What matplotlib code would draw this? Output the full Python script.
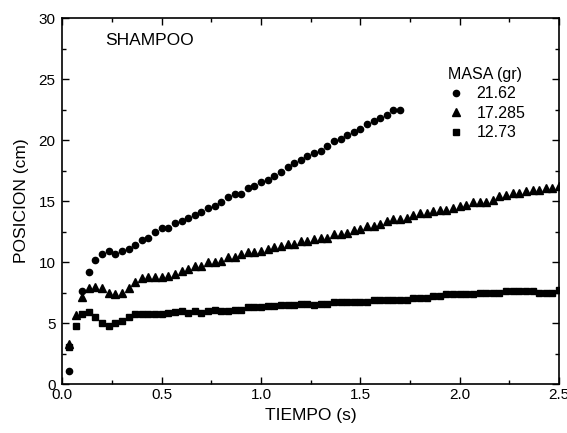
import numpy as np
import matplotlib
matplotlib.use("Agg")
import matplotlib.pyplot as plt
from matplotlib.ticker import MultipleLocator, FormatStrFormatter

plt.rcParams['font.family'] = ['Liberation Sans', 'DejaVu Sans']

# frames sampled at 30 fps
FPS = 30
frames = np.arange(1, 76)

masas = ['21.62', '17.285', '12.73']

# 21.62 gr (circles), frame 2 not visible
pos_21 = [1.08, np.nan, 7.6, 9.2, 10.2, 10.7, 10.9, 10.7, 10.9, 11.1,
          11.4, 11.8, 12.0, 12.5, 12.8, 12.8, 13.2, 13.4, 13.6, 13.9,
          14.1, 14.4, 14.6, 14.9, 15.3, 15.6, 15.6, 16.1, 16.2, 16.6,
          16.7, 17.1, 17.4, 17.8, 18.1, 18.4, 18.7, 18.96, 19.1, 19.5,
          19.9, 20.1, 20.4, 20.7, 20.9, 21.3, 21.6, 21.8, 22.1, 22.5,
          22.5]

# 17.285 gr (triangles)
pos_17 = [3.3, 5.7, 7.1, 7.9, 8.0, 7.9, 7.5, 7.35, 7.5, 7.9,
          8.4, 8.7, 8.8, 8.8, 8.8, 8.85, 9.0, 9.3, 9.4, 9.7,
          9.7, 10.0, 10.0, 10.1, 10.4, 10.4, 10.65, 10.8, 10.8, 10.9,
          11.1, 11.2, 11.3, 11.5, 11.5, 11.75, 11.75, 11.9, 12.0, 12.0,
          12.3, 12.3, 12.4, 12.6, 12.7, 12.95, 12.95, 13.1, 13.4, 13.5,
          13.5, 13.6, 13.9, 14.0, 14.0, 14.2, 14.3, 14.3, 14.45, 14.6,
          14.7, 14.9, 14.9, 14.9, 15.1, 15.4, 15.5, 15.7, 15.7, 15.8,
          15.95, 15.95, 16.1, 16.1, 16.2]

# 12.73 gr (squares)
pos_12 = [3.0, 4.75, 5.75, 5.9, 5.5, 5.0, 4.75, 5.0, 5.15, 5.5,
          5.75, 5.75, 5.75, 5.75, 5.75, 5.8, 5.95, 6.0, 5.85, 6.0,
          5.85, 6.0, 6.1, 6.0, 6.0, 6.1, 6.1, 6.3, 6.3, 6.3,
          6.4, 6.4, 6.5, 6.5, 6.5, 6.6, 6.6, 6.5, 6.6, 6.6,
          6.75, 6.75, 6.75, 6.75, 6.75, 6.75, 6.9, 6.9, 6.9, 6.9,
          6.9, 6.9, 7.05, 7.05, 7.05, 7.2, 7.2, 7.35, 7.35, 7.35,
          7.35, 7.35, 7.5, 7.5, 7.5, 7.5, 7.65, 7.65, 7.65, 7.65,
          7.65, 7.5, 7.5, 7.5, 7.7]

fig = plt.figure(figsize=(5.67, 4.33), dpi=100)
ax = fig.add_axes([0.110, 0.113, 0.876, 0.845])

t21 = frames[:len(pos_21)] / FPS
t17 = frames[:len(pos_17)] / FPS
t12 = frames[:len(pos_12)] / FPS

ax.plot(t21, pos_21, 'o', color='black', markersize=4.5, label=masas[0])
ax.plot(t17, pos_17, '^', color='black', markersize=5.2, label=masas[1])
ax.plot(t12, pos_12, 's', color='black', markersize=4.2, label=masas[2])

ax.set_xlim(0, 2.5)
ax.set_ylim(0, 30)
ax.xaxis.set_major_locator(MultipleLocator(0.5))
ax.xaxis.set_minor_locator(MultipleLocator(0.25))
ax.yaxis.set_major_locator(MultipleLocator(5))
ax.yaxis.set_minor_locator(MultipleLocator(2.5))
ax.xaxis.set_major_formatter(FormatStrFormatter('%.1f'))
ax.tick_params(which='both', direction='in', top=True, right=True,
               labelsize=11, width=1)
ax.tick_params(which='major', length=5)
ax.tick_params(which='minor', length=3)
ax.tick_params(axis='y', which='major', pad=5)
ax.tick_params(axis='x', which='major', pad=3)
for s in ax.spines.values():
    s.set_linewidth(1.2)

ax.set_xlabel('TIEMPO (s)', fontsize=12.5, labelpad=4)
ax.set_ylabel('POSICION (cm)', fontsize=12.5, labelpad=7)

ax.text(0.087, 0.94, 'SHAMPOO', transform=ax.transAxes, fontsize=12.5,
        va='center', ha='left')

leg = ax.legend(title='MASA (gr)', loc='upper left', bbox_to_anchor=(0.753, 0.898),
                frameon=False, fontsize=11.5, title_fontsize=11.5,
                handlelength=1.0, handletextpad=0.8, labelspacing=0.28,
                borderpad=0.2, alignment='left')

fig.savefig('out.png', dpi=100)
